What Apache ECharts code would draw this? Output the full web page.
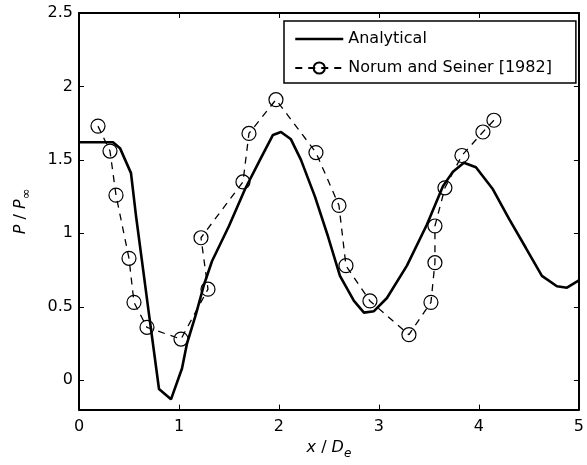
<!DOCTYPE html>
<html>
<head>
<meta charset="utf-8">
<script src="https://cdn.jsdelivr.net/npm/echarts@6/dist/echarts.min.js"></script>
<style>
html,body{margin:0;padding:0;background:#fff;}
#chart{width:587px;height:465px;}
</style>
</head>
<body>
<div id="chart"></div>
<script>
// Analytical solution (x/De, P/Pinf)
const analyticalX = [0, 0.34, 0.41, 0.52, 0.57, 0.64, 0.70, 0.80, 0.92, 1.03, 1.08, 1.17, 1.25, 1.33, 1.50, 1.66, 1.81, 1.94, 2.02, 2.12, 2.22, 2.36, 2.49, 2.61, 2.75, 2.85, 2.95, 3.08, 3.28, 3.48, 3.64, 3.74, 3.85, 3.97, 4.14, 4.30, 4.47, 4.63, 4.78, 4.88, 5.00];
const analyticalY = [1.62, 1.62, 1.58, 1.41, 1.12, 0.76, 0.45, -0.06, -0.13, 0.08, 0.25, 0.45, 0.65, 0.81, 1.05, 1.30, 1.50, 1.67, 1.69, 1.64, 1.50, 1.25, 0.98, 0.71, 0.54, 0.46, 0.47, 0.56, 0.78, 1.06, 1.32, 1.42, 1.48, 1.45, 1.30, 1.10, 0.90, 0.71, 0.64, 0.63, 0.68];
// Norum and Seiner [1982] experimental data
const expX = [0.19, 0.31, 0.37, 0.50, 0.55, 0.68, 1.02, 1.29, 1.22, 1.64, 1.70, 1.97, 2.37, 2.60, 2.67, 2.91, 3.30, 3.52, 3.56, 3.56, 3.66, 3.83, 4.04, 4.15];
const expY = [1.73, 1.56, 1.26, 0.83, 0.53, 0.36, 0.28, 0.62, 0.97, 1.35, 1.68, 1.91, 1.55, 1.19, 0.78, 0.54, 0.31, 0.53, 0.80, 1.05, 1.31, 1.53, 1.69, 1.77];
const xTicks = [0, 1, 2, 3, 4, 5];
const seriesNames = ['Analytical', 'Norum and Seiner [1982]'];

const FONT = 'DejaVu Sans';
const chart = echarts.init(document.getElementById('chart'), null, {renderer: 'canvas'});

const frameAxis = {
  axisLine: {show: true, onZero: false, lineStyle: {color: '#000', width: 2}},
  axisTick: {show: true, inside: true, length: 5, lineStyle: {color: '#000', width: 1}},
  splitLine: {show: false}
};

chart.setOption({
  animation: false,
  backgroundColor: '#fff',
  grid: {left: 79, top: 13, right: 3, bottom: 53, containLabel: false},
  legend: {
    orient: 'vertical',
    left: 284,
    top: 21,
    padding: [10, 24, 7, 10],
    itemWidth: 48,
    itemHeight: 14,
    itemGap: 13,
    borderColor: '#000',
    borderWidth: 1.5,
    backgroundColor: '#fff',
    textStyle: {fontFamily: FONT, fontSize: 16, color: '#000'},
    data: [
      {name: seriesNames[0], itemStyle: {opacity: 0}, lineStyle: {width: 2.5, color: '#000'}},
      {name: seriesNames[1]}
    ]
  },
  xAxis: [
    Object.assign({}, frameAxis, {
      type: 'value', min: xTicks[0], max: xTicks[xTicks.length - 1], interval: 1,
      position: 'bottom',
      axisLabel: {fontFamily: FONT, fontSize: 16, color: '#000', margin: 9},
      name: '{i|x} / {i|D}{sub|e}',
      nameLocation: 'middle',
      nameGap: 24,
      nameTextStyle: {
        fontFamily: FONT, fontSize: 16, color: '#000',
        rich: {
          i: {fontFamily: FONT, fontSize: 16, fontStyle: 'italic', color: '#000'},
          sub: {fontFamily: FONT, fontSize: 12, fontStyle: 'italic', color: '#000', padding: [13, 0, 0, 0]}
        }
      }
    }),
    Object.assign({}, frameAxis, {
      type: 'value', min: 0, max: 5, interval: 1, position: 'top',
      axisLabel: {show: false}
    })
  ],
  yAxis: [
    Object.assign({}, frameAxis, {
      type: 'value', min: -0.2, max: 2.5, splitNumber: 5,
      position: 'left',
      axisLabel: {fontFamily: FONT, fontSize: 16, color: '#000', margin: 6, showMinLabel: false},
      name: '{i|P} / {i|P}{sub|∞}',
      nameLocation: 'middle',
      nameGap: 46,
      nameRotate: 90,
      nameTextStyle: {
        fontFamily: FONT, fontSize: 16, color: '#000',
        rich: {
          i: {fontFamily: FONT, fontSize: 16, fontStyle: 'italic', color: '#000'},
          sub: {fontFamily: FONT, fontSize: 13, color: '#000', padding: [12, 0, 0, 0]}
        }
      }
    }),
    Object.assign({}, frameAxis, {
      type: 'value', min: -0.2, max: 2.5, splitNumber: 5, position: 'right',
      axisLabel: {show: false}
    })
  ],
  series: [
    {
      name: seriesNames[0],
      type: 'line',
      xAxisIndex: 0, yAxisIndex: 0,
      data: analyticalX.map((x, i) => [x, analyticalY[i]]),
      symbol: 'none',
      showSymbol: false,
      lineStyle: {color: '#000', width: 2.6},
      itemStyle: {color: '#000'},
      z: 3
    },
    {
      name: seriesNames[1],
      type: 'line',
      xAxisIndex: 0, yAxisIndex: 0,
      data: expX.map((x, i) => [x, expY[i]]),
      symbol: 'circle',
      symbolSize: 14,
      showSymbol: true,
      lineStyle: {color: '#000', width: 1.3, type: [7, 6]},
      itemStyle: {color: 'rgba(0,0,0,0)', borderColor: '#000', borderWidth: 1.2},
      z: 4
    }
  ]
});
</script>
</body>
</html>
